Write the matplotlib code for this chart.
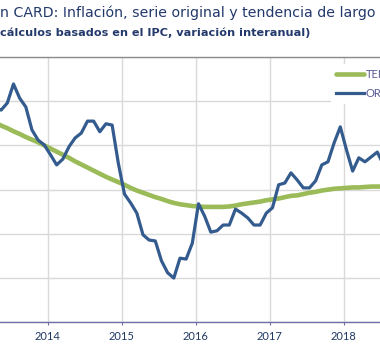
"""
CARD inflation: original series vs long-term trend (cropped view)
"""

import matplotlib
matplotlib.use("Agg")

import matplotlib.pyplot as plt
import numpy as np

# monthly data, starting April 2013
start_year = 2013
start_month = 4

original = [4.85, 4.80, 4.96, 5.39, 5.07, 4.87, 4.35, 4.12, 4.01,
            3.79, 3.56, 3.69, 3.97, 4.17, 4.28, 4.55, 4.55, 4.31, 4.49, 4.46, 3.60,
            2.90, 2.70, 2.47, 1.98, 1.86, 1.84, 1.39, 1.12, 1.00, 1.45, 1.43, 1.79,
            2.68, 2.40, 2.04, 2.07, 2.20, 2.20, 2.56, 2.47, 2.36, 2.20, 2.20, 2.47,
            2.59, 3.11, 3.15, 3.38, 3.22, 3.04, 3.04, 3.20, 3.56, 3.63, 4.06, 4.42,
            3.90, 3.42, 3.72, 3.63, 3.74, 3.85, 3.56]

trend = [4.52, 4.45, 4.39, 4.32, 4.26, 4.19, 4.13, 4.07, 4.00,
         3.93, 3.86, 3.79, 3.72, 3.64, 3.57, 3.50, 3.43, 3.36, 3.29, 3.23, 3.17,
         3.11, 3.04, 2.98, 2.93, 2.88, 2.83, 2.79, 2.74, 2.70, 2.67, 2.65, 2.63,
         2.62, 2.61, 2.61, 2.61, 2.61, 2.62, 2.64, 2.67, 2.69, 2.71, 2.73, 2.76,
         2.78, 2.80, 2.83, 2.86, 2.87, 2.90, 2.93, 2.95, 2.98, 3.00, 3.02, 3.03,
         3.04, 3.05, 3.05, 3.06, 3.07, 3.07, 3.07]

years = [2014, 2015, 2016, 2017, 2018]

title = "n CARD: Inflación, serie original y tendencia de largo"
subtitle = "cálculos basados en el IPC, variación interanual)"
labels = ["TENDENCIA", "ORIGINAL"]

n = len(original)
months = start_month - 1 + np.arange(n)
t = start_year + months / 12 + 0.45 / 12

W, H = 380, 351
fig = plt.figure(figsize=(W / 100, H / 100), dpi=100)
ax = fig.add_axes([0, (H - 322.3) / H, 1, (322.3 - 57) / H])

ax.set_xlim(2014 - 47.7 / 74, 2014 + (W - 47.7) / 74)
ax.set_ylim(0, 6)

ax.grid(True, color="#d9d9d9", linewidth=1.0)
ax.set_axisbelow(True)

ln_t, = ax.plot(t, trend, color="#9bbb59", linewidth=3.3, solid_capstyle="round")
ln_o, = ax.plot(t, original, color="#335b8e", linewidth=2.3, solid_joinstyle="round")

ax.set_xticks(years)
ax.set_xticklabels([str(y) for y in years])
ax.set_yticks(np.arange(0, 7))
ax.tick_params(axis="y", left=False, labelleft=False)
ax.tick_params(axis="x", length=2.5, width=0.8, color="#6f6fa8",
               labelcolor="#1f3864", labelsize=8, pad=4)
for lab in ax.get_xticklabels():
    lab.set_family("Lato")

for side in ["left", "right"]:
    ax.spines[side].set_visible(False)
ax.spines["top"].set_color("#8c8c8c")
ax.spines["top"].set_linewidth(1.0)
ax.spines["bottom"].set_color("#6f6fa8")
ax.spines["bottom"].set_linewidth(1.0)

leg = ax.legend([ln_t, ln_o], labels, loc="upper left",
                bbox_to_anchor=(331 / W, 1 - 64 / H), bbox_transform=fig.transFigure,
                frameon=True, fancybox=False, framealpha=1, edgecolor="none",
                fontsize=8, handlelength=2.5, handletextpad=0.2,
                labelspacing=0.75, borderpad=0.45, borderaxespad=0)
for txt in leg.get_texts():
    txt.set_color("#5b5b96")
    txt.set_family("Lato")

fig.text(0, 1 - 16.7 / H, title, ha="left", va="baseline",
         fontsize=10.2, color="#23396b")
fig.text(0, 1 - 36.5 / H, subtitle, ha="left", va="baseline",
         fontsize=8.1, color="#23396b", fontweight="bold")

fig.savefig("out.png", dpi=100)
plt.close(fig)
